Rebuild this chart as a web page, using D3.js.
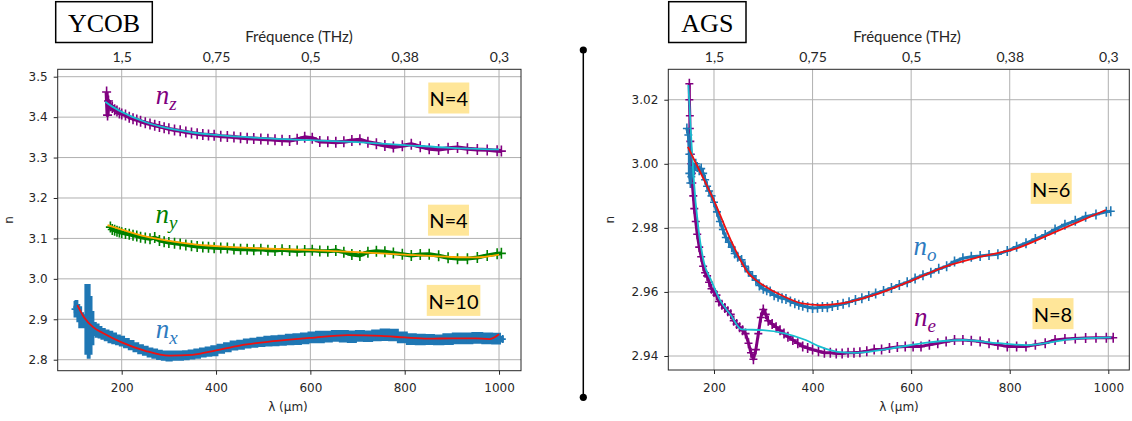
<!DOCTYPE html>
<html><head><meta charset="utf-8">
<script src="https://cdn.jsdelivr.net/npm/d3@7"></script>
<style>
html,body{margin:0;padding:0;background:#fff;}
svg{display:block;}
</style></head>
<body>
<svg id="c" width="1132" height="421"></svg>
<script>
// ---------------- DATA ----------------
const lamTicks = [200, 400, 600, 800, 1000];
const freqLabels = ["1,5", "0,75", "0,5", "0,38", "0,3"];
const yTicksYCOB = [2.8, 2.9, 3.0, 3.1, 3.2, 3.3, 3.4, 3.5];
const yTicksAGS = [2.94, 2.96, 2.98, 3.00, 3.02];

// YCOB n_z (purple markers) and fit (cyan)
const lamZ = [168,170,172,176,180,185,190,195,200,208,216,224,232,240,250,260,270,280,290,300,312,324,336,348,360,372,384,396,410,424,438,452,466,480,495,510,525,540,556,572,588,604,620,637,654,671,688,705,722,740,758,776,795,814,833,852,872,892,912,933,954,975,996,1005];
const nZ = [3.462,3.405,3.440,3.428,3.424,3.418,3.415,3.410,3.408,3.405,3.400,3.396,3.393,3.390,3.386,3.383,3.380,3.377,3.374,3.371,3.368,3.366,3.363,3.361,3.359,3.357,3.356,3.355,3.353,3.352,3.351,3.349,3.348,3.347,3.346,3.345,3.344,3.343,3.342,3.345,3.350,3.348,3.340,3.339,3.338,3.339,3.342,3.344,3.338,3.334,3.330,3.326,3.329,3.333,3.327,3.322,3.320,3.323,3.325,3.322,3.320,3.319,3.317,3.316];
const lamZfit = [165,180,200,250,300,350,400,500,600,700,800,900,1000];
const nZfit = [3.438,3.426,3.413,3.388,3.372,3.362,3.356,3.348,3.343,3.338,3.331,3.324,3.320];

// YCOB n_y (green markers) and fit (orange)
const lamY = [176,180,185,190,195,200,208,216,224,232,240,250,260,270,280,290,300,312,324,336,348,360,372,384,396,410,424,438,452,466,480,495,510,525,540,556,572,588,604,620,637,654,671,688,705,722,740,758,776,795,814,833,852,872,892,912,933,954,975,996,1005];
const nY = [3.128,3.122,3.120,3.118,3.116,3.114,3.112,3.110,3.108,3.106,3.103,3.101,3.099,3.102,3.095,3.092,3.090,3.088,3.086,3.084,3.082,3.080,3.079,3.078,3.077,3.076,3.076,3.074,3.073,3.073,3.072,3.073,3.071,3.070,3.072,3.070,3.069,3.070,3.071,3.069,3.068,3.070,3.066,3.060,3.058,3.066,3.068,3.067,3.064,3.061,3.058,3.060,3.061,3.057,3.052,3.050,3.050,3.053,3.058,3.062,3.063];
const lamYfit = [170,200,250,300,350,400,500,600,700,800,900,950,1000];
const nYfit = [3.133,3.122,3.105,3.094,3.086,3.081,3.075,3.071,3.066,3.060,3.054,3.053,3.060];

// YCOB n_x (blue, with error bars) and fit (red)
const lamX = [100,104,108,112,116,120,126,130,134,138,142,148,154,160,168,176,184,192,200,210,220,230,240,250,260,270,280,290,300,312,324,336,348,360,372,384,396,410,424,438,452,466,480,495,510,525,540,556,572,588,604,620,637,654,671,688,705,722,740,758,776,795,814,833,852,872,892,912,933,954,975,996,1008];
const nX = [2.925,2.930,2.915,2.905,2.900,2.895,2.900,2.895,2.885,2.878,2.876,2.872,2.868,2.864,2.860,2.856,2.853,2.849,2.846,2.841,2.836,2.831,2.826,2.822,2.818,2.815,2.812,2.810,2.809,2.810,2.810,2.811,2.813,2.815,2.818,2.820,2.822,2.827,2.831,2.835,2.837,2.840,2.842,2.844,2.846,2.847,2.848,2.850,2.851,2.853,2.855,2.856,2.857,2.859,2.858,2.857,2.859,2.858,2.860,2.862,2.861,2.855,2.851,2.850,2.850,2.849,2.851,2.853,2.853,2.854,2.853,2.852,2.851];
const errX = [0.018,0.015,0.020,0.025,0.015,0.015,0.085,0.090,0.070,0.040,0.015,0.015,0.013,0.012,0.012,0.013,0.012,0.011,0.011,0.010,0.010,0.010,0.010,0.010,0.010,0.010,0.010,0.010,0.011,0.010,0.010,0.010,0.010,0.010,0.010,0.010,0.011,0.010,0.010,0.010,0.010,0.010,0.010,0.010,0.011,0.011,0.011,0.012,0.012,0.012,0.012,0.013,0.012,0.012,0.013,0.013,0.012,0.012,0.012,0.013,0.013,0.012,0.012,0.012,0.011,0.011,0.012,0.012,0.012,0.012,0.012,0.012,0.006];
const lamXfit = [106,120,140,160,200,250,300,350,400,450,500,550,600,680,750,800,850,900,950,980,1000];
const nXfit = [2.935,2.905,2.880,2.866,2.843,2.822,2.810,2.812,2.823,2.835,2.843,2.849,2.854,2.861,2.859,2.855,2.852,2.853,2.853,2.851,2.863];

// AGS n_e (purple markers) and fit (cyan)
const lamE = [150,150,151,151,152,153,154,155,156,158,160,163,166,170,174,178,182,186,190,195,200,205,210,216,222,228,234,240,246,252,258,264,270,275,280,285,290,295,300,305,310,318,326,334,342,350,360,370,380,390,400,412,424,436,448,460,472,484,496,510,525,540,556,572,588,604,620,637,654,671,688,705,722,740,758,776,795,814,833,852,872,892,912,933,954,975,996,1010];
const nE = [3.025,3.020,3.015,3.011,3.007,3.003,3.000,2.997,2.994,2.990,2.986,2.982,2.978,2.974,2.971,2.968,2.966,2.965,2.963,2.961,2.960,2.959,2.957,2.956,2.955,2.954,2.953,2.951,2.950,2.949,2.948,2.947,2.944,2.941,2.939,2.942,2.947,2.952,2.9545,2.953,2.951,2.950,2.949,2.948,2.947,2.946,2.945,2.944,2.943,2.9425,2.942,2.9415,2.941,2.941,2.9408,2.9408,2.941,2.941,2.9412,2.9415,2.942,2.942,2.9425,2.9428,2.943,2.943,2.943,2.9435,2.944,2.9445,2.945,2.945,2.9448,2.9445,2.944,2.9435,2.943,2.943,2.943,2.9435,2.944,2.945,2.9453,2.9455,2.9456,2.9457,2.9457,2.9457];
const lamEfit = [148,154,158,169,180,194,212,234,256,299,343,386,415,451,487,560,632,705,777,835,922,1006];
const nEfit = [3.0246,3.0074,2.997,2.979,2.969,2.9637,2.9575,2.9528,2.9483,2.9481,2.9471,2.945,2.9429,2.9413,2.941,2.9424,2.9442,2.945,2.944,2.9434,2.9452,2.9458];

// AGS n_o (blue markers) and fit (red)
const lamO = [145,148,150,150,152,154,157,160,163,166,170,174,178,182,186,190,195,200,206,212,218,224,230,236,242,248,256,263,270,278,285,292,300,307,314,322,330,338,346,355,364,372,380,390,400,410,420,430,440,451,462,474,487,500,514,528,544,560,576,592,608,624,640,656,672,688,705,722,740,758,776,795,814,833,852,872,892,912,933,954,975,996,1005];
const nO = [3.011,3.009,3.003,2.997,2.994,2.996,2.999,2.998,3.000,2.999,2.998,2.9985,2.997,2.995,2.993,2.9915,2.990,2.988,2.985,2.982,2.9795,2.977,2.9755,2.974,2.972,2.971,2.970,2.968,2.9663,2.965,2.9637,2.962,2.961,2.9605,2.9601,2.959,2.9585,2.958,2.9578,2.957,2.9565,2.956,2.9557,2.9552,2.955,2.9551,2.9553,2.9552,2.9556,2.9559,2.9563,2.9568,2.9575,2.958,2.9587,2.9595,2.9603,2.9612,2.9622,2.963,2.9642,2.9652,2.966,2.9672,2.968,2.9695,2.9705,2.971,2.9712,2.9715,2.9718,2.9728,2.9741,2.9752,2.9765,2.9778,2.9795,2.981,2.9822,2.9835,2.9842,2.985,2.9852];
const lamOfit = [147,175,200,234,270,285,299,343,379,415,458,524,596,669,741,814,886,995];
const nOfit = [3.0053,2.9965,2.9885,2.9762,2.9658,2.9637,2.9622,2.9585,2.9564,2.9559,2.9564,2.959,2.9632,2.9679,2.971,2.9736,2.9783,2.9856];

// ---------------- DRAWING ----------------
const svg = d3.select("#c");
const C = {purple:"#800080", cyan:"#17becf", green:"#008000", orange:"#ffa500", blue:"#1f77b4", red:"#ee1111", ann:"#ffe699", grid:"#b0b0b0", spine:"#262626"};
const zip = (a,b) => a.map((v,i)=>[v,b[i]]);

function panel(o){
  const g = svg.append("g");
  const x = d3.scaleLinear().domain(o.xd).range([o.L, o.R]);
  const y = d3.scaleLinear().domain(o.yd).range([o.B, o.T]);
  // grid
  g.append("g").selectAll("line").data(lamTicks).join("line")
    .attr("x1", d=>x(d)).attr("x2", d=>x(d)).attr("y1", o.T).attr("y2", o.B)
    .attr("stroke", C.grid).attr("stroke-width", 1);
  g.append("g").selectAll("line").data(o.yTicks).join("line")
    .attr("x1", o.L).attr("x2", o.R).attr("y1", d=>y(d)).attr("y2", d=>y(d))
    .attr("stroke", C.grid).attr("stroke-width", 1);
  // axes
  const ax = g.append("g").attr("transform", `translate(0,${o.B})`)
    .call(d3.axisBottom(x).tickValues(lamTicks).tickSize(4).tickSizeOuter(0).tickPadding(9).tickFormat(d3.format("d")));
  const ay = g.append("g").attr("transform", `translate(${o.L},0)`)
    .call(d3.axisLeft(y).tickValues(o.yTicks).tickSize(4).tickSizeOuter(0).tickPadding(6).tickFormat(d3.format(o.yFmt)));
  const at = g.append("g").attr("transform", `translate(0,${o.T})`)
    .call(d3.axisTop(x).tickValues(lamTicks).tickSize(0).tickPadding(7).tickFormat((d,i)=>freqLabels[i]));
  [ax, ay].forEach(a => {
    a.select(".domain").remove();
    a.selectAll("line").attr("stroke", C.spine);
    a.selectAll("text").attr("font-family", "DejaVu Sans").attr("font-size", 12).attr("fill", "#262626");
  });
  at.select(".domain").remove();
  at.selectAll("text").attr("font-family", "Lato").attr("font-size", 14).attr("fill", "#262626");

  // series
  const clipId = "clip" + o.id;
  svg.append("defs").append("clipPath").attr("id", clipId)
    .append("rect").attr("x", o.L).attr("y", o.T).attr("width", o.R-o.L).attr("height", o.B-o.T);
  const pg = g.append("g").attr("clip-path", `url(#${clipId})`);
  o.series.forEach(s => {
    if (s.err) {
      const area = d3.area().curve(d3.curveStep)
        .x(d=>x(d[0])).y0(d=>y(d[1]-d[2])).y1(d=>y(d[1]+d[2]));
      pg.append("path").datum(s.lam.map((v,i)=>[v, s.n[i], s.err[i]]))
        .attr("d", area).attr("fill", s.color).attr("stroke", s.color).attr("stroke-width", 2);
    }
    if (s.lw) {
      pg.append("path").datum(zip(s.lam, s.n))
        .attr("d", d3.line().x(d=>x(d[0])).y(d=>y(d[1])))
        .attr("fill", "none").attr("stroke", s.color).attr("stroke-width", s.lw).attr("stroke-linejoin", "round");
    }
    const h = s.ms || 4;
    pg.append("g").selectAll("path").data(zip(s.lam, s.n)).join("path")
      .attr("transform", d=>`translate(${x(d[0])},${y(d[1])})`)
      .attr("d", `M${-h},0H${h}M0,${-h-1}V${h+1}`)
      .attr("stroke", s.color).attr("stroke-width", 1.6).attr("fill", "none");
  });
  o.fits.forEach(f => {
    pg.append("path").datum(zip(f.lam, f.n))
      .attr("d", d3.line().curve(d3.curveMonotoneX).x(d=>x(d[0])).y(d=>y(d[1])))
      .attr("fill", "none").attr("stroke", f.color).attr("stroke-width", 1.8);
  });
  // frame
  g.append("rect").attr("x", o.L).attr("y", o.T).attr("width", o.R-o.L).attr("height", o.B-o.T)
    .attr("fill", "none").attr("stroke", C.spine).attr("stroke-width", 1);
  // axis titles
  g.append("text").attr("x", o.xlabX).attr("y", 411).attr("text-anchor", "middle")
    .attr("font-family", "DejaVu Sans").attr("font-size", 12).attr("fill", "#262626").text("λ (µm)");
  g.append("text").attr("transform", `translate(${o.ylabX},${(o.T+o.B)/2}) rotate(-90)`).attr("text-anchor", "middle")
    .attr("font-family", "DejaVu Sans").attr("font-size", 12).attr("fill", "#262626").text("n");
  g.append("text").attr("x", o.flabX).attr("y", 41.5).attr("text-anchor", "middle")
    .attr("font-family", "Lato").attr("font-size", 15).attr("fill", "#262626").text("Fréquence (THz)");
  // N annotations
  o.anns.forEach(a => {
    const cx = x(a.lam), cy = y(a.n);
    g.append("rect").attr("x", cx - a.w/2).attr("y", cy - 15.5).attr("width", a.w).attr("height", 31).attr("fill", C.ann);
    g.append("text").attr("x", cx).attr("y", cy + 8.3).attr("text-anchor", "middle")
      .attr("font-family", "Lato").attr("font-size", 20).attr("fill", "#000").text(a.text);
  });
  // species labels
  o.labels.forEach(l => {
    const t = g.append("text").attr("x", x(l.lam)).attr("y", y(l.n))
      .attr("font-family", "Liberation Serif").attr("font-style", "italic").attr("fill", l.color);
    t.append("tspan").attr("font-size", 27).text("n");
    t.append("tspan").attr("font-size", 19).attr("dy", 6).text(l.sub);
  });
  // title box
  g.append("rect").attr("x", o.title.x0).attr("y", 1.7).attr("width", o.title.x1 - o.title.x0).attr("height", 40.8)
    .attr("fill", "#fff").attr("stroke", "#000").attr("stroke-width", 1.5);
  g.append("text").attr("x", (o.title.x0 + o.title.x1)/2).attr("y", 31.5).attr("text-anchor", "middle")
    .attr("font-family", "Liberation Serif").attr("font-size", 26).attr("fill", "#000").text(o.title.text);
}

panel({
  id: "L", L: 57.7, R: 521, T: 69.3, B: 370.7,
  xd: [64.3, 1046.6], yd: [2.7728, 3.5183], yTicks: yTicksYCOB, yFmt: ".1f",
  xlabX: 288, ylabX: 12.5, flabX: 299,
  series: [
    {lam: lamX, n: nX, err: errX, color: C.blue, ms: 3},
    {lam: lamZ, n: nZ, color: C.purple, ms: 4.5, lw: 4},
    {lam: lamY, n: nY, color: C.green, ms: 4.5, lw: 4}
  ],
  fits: [
    {lam: lamXfit, n: nXfit, color: C.red},
    {lam: lamZfit, n: nZfit, color: C.cyan},
    {lam: lamYfit, n: nYfit, color: C.orange}
  ],
  anns: [
    {lam: 893.5, n: 3.4473, w: 41, text: "N=4"},
    {lam: 892.8, n: 3.1451, w: 41, text: "N=4"},
    {lam: 903.6, n: 2.9467, w: 53.6, text: "N=10"}
  ],
  labels: [
    {lam: 272.1, n: 3.4325, sub: "z", color: C.purple},
    {lam: 271.4, n: 3.1374, sub: "y", color: C.green},
    {lam: 272.1, n: 2.8530, sub: "x", color: "#2e7bc0"}
  ],
  title: {x0: 55.7, x1: 152.3, text: "YCOB"}
});

panel({
  id: "R", L: 668.3, R: 1129.3, T: 69.3, B: 370,
  xd: [107.3, 1042.6], yd: [2.93563, 3.0295], yTicks: yTicksAGS, yFmt: ".2f",
  xlabX: 899, ylabX: 613.6, flabX: 907,
  series: [
    {lam: lamE, n: nE, color: C.purple, ms: 4, lw: 3},
    {lam: lamO, n: nO, color: C.blue, ms: 4, lw: 3}
  ],
  fits: [
    {lam: lamEfit, n: nEfit, color: C.cyan},
    {lam: lamOfit, n: nOfit, color: C.red}
  ],
  anns: [
    {lam: 884.2, n: 2.99233, w: 41, text: "N=6"},
    {lam: 887.8, n: 2.95322, w: 41, text: "N=8"}
  ],
  labels: [
    {lam: 604.9, n: 2.97153, sub: "o", color: "#2e7bc0"},
    {lam: 605.8, n: 2.94937, sub: "e", color: C.purple}
  ],
  title: {x0: 668.7, x1: 746, text: "AGS"}
});

// separator
svg.append("line").attr("x1", 583.3).attr("x2", 583.3).attr("y1", 50).attr("y2", 397.3)
  .attr("stroke", "#000").attr("stroke-width", 1.5);
svg.selectAll("circle.sep").data([50, 397.3]).join("circle").attr("class", "sep")
  .attr("cx", 583.3).attr("cy", d=>d).attr("r", 3.6).attr("fill", "#000");
</script>
</body></html>
